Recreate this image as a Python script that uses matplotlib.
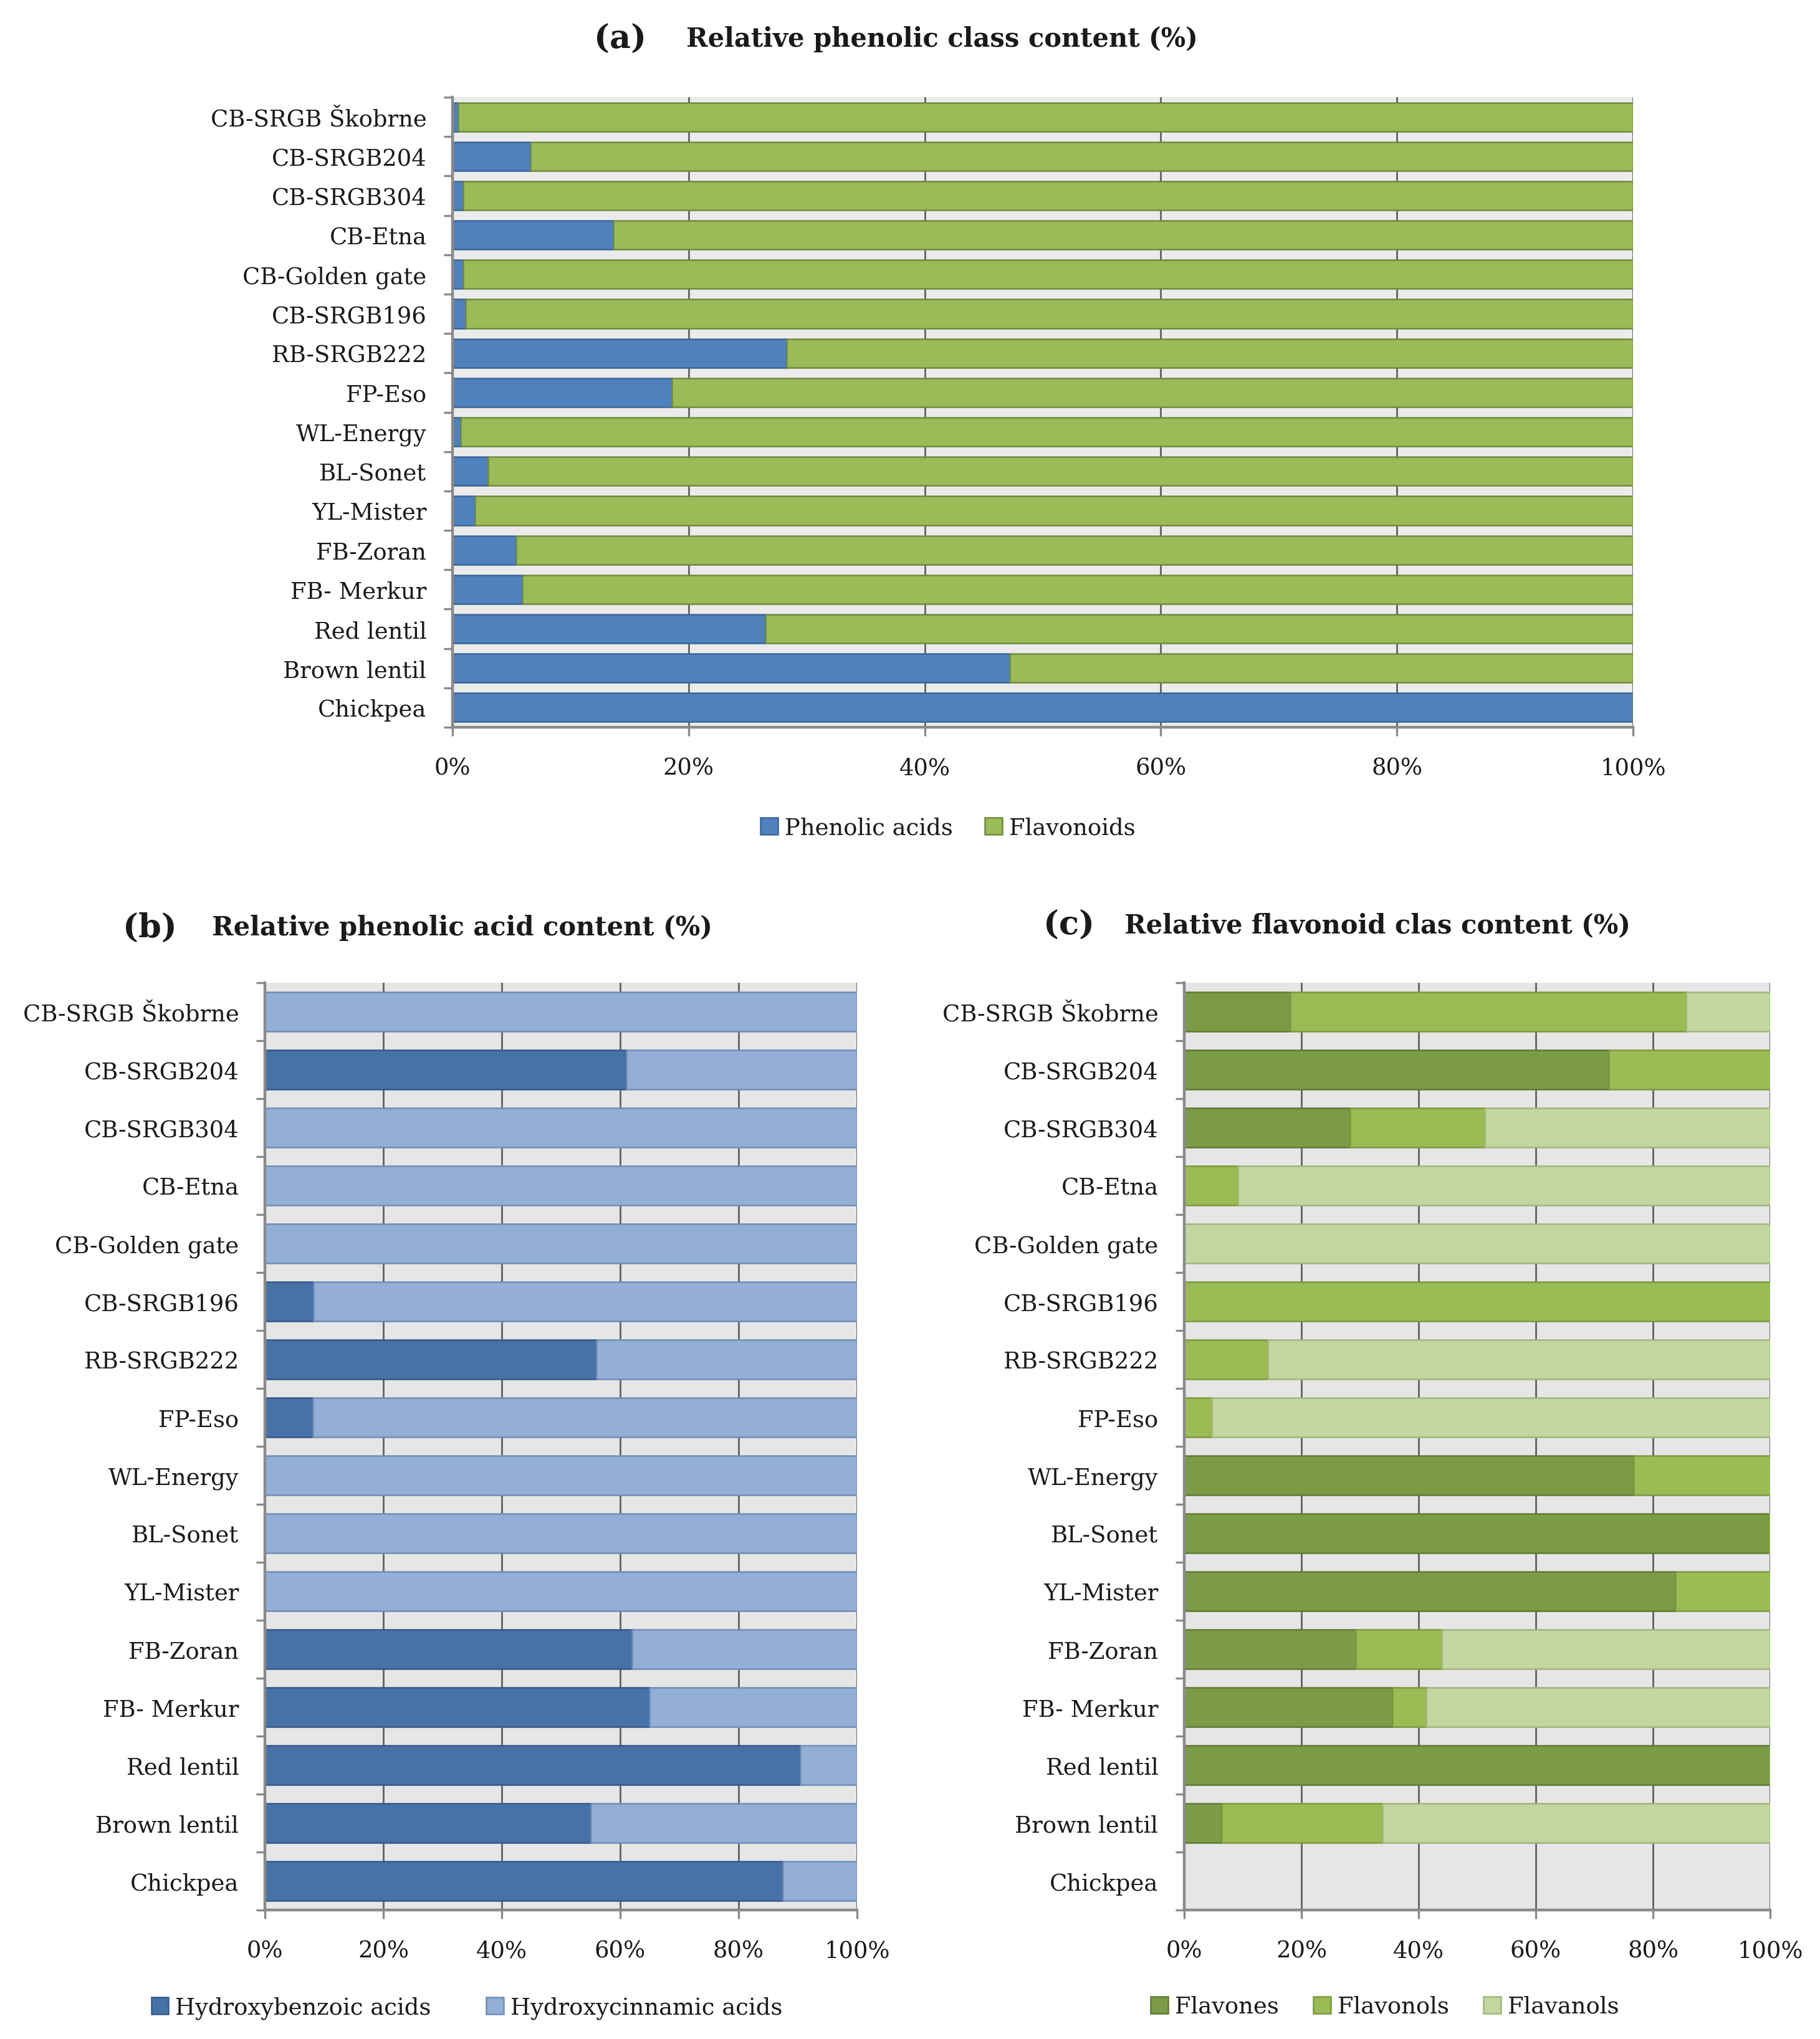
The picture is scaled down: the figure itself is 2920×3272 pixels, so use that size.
import numpy as np
import matplotlib as mpl
import matplotlib.pyplot as plt

plt.rcParams['font.family'] = ['DejaVu Serif']

samples = ['CB-SRGB Škobrne', 'CB-SRGB204', 'CB-SRGB304', 'CB-Etna', 'CB-Golden gate',
           'CB-SRGB196', 'RB-SRGB222', 'FP-Eso', 'WL-Energy', 'BL-Sonet', 'YL-Mister',
           'FB-Zoran', 'FB- Merkur', 'Red lentil', 'Brown lentil', 'Chickpea']

# (a) relative phenolic class content
phenolic_acids = [0.5, 6.6, 0.9, 13.6, 0.9, 1.1, 28.3, 18.6, 0.7, 3.0, 1.9, 5.4, 5.9, 26.5, 47.2, 100]
flavonoids = [99.5, 93.4, 99.1, 86.4, 99.1, 98.9, 71.7, 81.4, 99.3, 97.0, 98.1, 94.6, 94.1, 73.5, 52.8, 0]

# (b) relative phenolic acid content
hydroxybenzoic = [0, 61.1, 0, 0, 0, 8.2, 56.0, 8.1, 0, 0, 0, 62.0, 64.9, 90.4, 55.1, 87.5]
hydroxycinnamic = [100, 38.9, 100, 100, 100, 91.8, 44.0, 91.9, 100, 100, 100, 38.0, 35.1, 9.6, 44.9, 12.5]

# (c) relative flavonoid class content
flavones = [18.1, 72.4, 28.3, 0, 0, 0, 0, 0, 76.7, 99.7, 83.8, 29.3, 35.5, 100, 6.4, 0]
flavonols = [67.5, 27.6, 23.0, 9.1, 0, 100, 14.3, 4.7, 23.3, 0.3, 16.2, 14.6, 5.8, 0, 27.4, 0]
flavanols = [14.4, 0, 48.7, 90.9, 100, 0, 85.7, 95.3, 0, 0, 0, 56.1, 58.7, 0, 66.2, 0]

xticks = [0, 20, 40, 60, 80, 100]
xticklabels = ['0%', '20%', '40%', '60%', '80%', '100%']

TICK_FS = 13.3
TXT = '#1a1a1a'
AXIS_GRAY = '#8a8a8a'
GRID_GRAY = '#606060'


def draw_panel(ax, series, names, colors, edges, bar_h, bg):
    y = np.arange(len(samples))
    left = np.zeros(len(samples))
    for vals, nm, c, e in zip(series, names, colors, edges):
        vals = np.array(vals, dtype=float)
        ax.barh(y, vals, left=left, height=bar_h, color=c, edgecolor=e,
                linewidth=0.9, label=nm, zorder=3)
        left = left + vals
    ax.set_facecolor(bg)
    ax.set_xlim(0, 100)
    ax.set_ylim(len(samples) - 0.5, -0.5)
    ax.set_yticks(y)
    ax.set_yticklabels(samples, fontsize=TICK_FS, color=TXT)
    ax.set_yticks(np.arange(len(samples) + 1) - 0.5, minor=True)
    ax.tick_params(axis='y', which='major', length=0, pad=15)
    ax.tick_params(axis='y', which='minor', length=5, width=1.2, color=AXIS_GRAY, direction='out')
    ax.set_xticks(xticks)
    ax.set_xticklabels(xticklabels, fontsize=TICK_FS, color=TXT)
    ax.tick_params(axis='x', length=5, width=1.2, color=AXIS_GRAY, direction='out', pad=12)
    ax.set_axisbelow(True)
    ax.grid(axis='x', color=GRID_GRAY, linewidth=1.0, zorder=0)
    for s in ['top', 'right']:
        ax.spines[s].set_visible(False)
    for s in ['left', 'bottom']:
        ax.spines[s].set_color(AXIS_GRAY)
        ax.spines[s].set_linewidth(1.6)
        ax.spines[s].set_zorder(4)


fig = plt.figure(figsize=(14.6, 16.365), dpi=200)
W, H = 2920.0, 3273.0

def fig_axes(x0, y0, x1, y1):
    return fig.add_axes([x0 / W, 1 - y1 / H, (x1 - x0) / W, (y1 - y0) / H])

ax_a = fig_axes(726, 157, 2620, 1168)
ax_b = fig_axes(425, 1578, 1375, 3066)
ax_c = fig_axes(1900, 1578, 2840, 3066)

draw_panel(ax_a, [phenolic_acids, flavonoids], ['Phenolic acids', 'Flavonoids'],
           ['#4f81bd', '#9bbb59'], ['#3b6596', '#6f8a3c'], 0.73, '#ebebeb')
draw_panel(ax_b, [hydroxybenzoic, hydroxycinnamic], ['Hydroxybenzoic acids', 'Hydroxycinnamic acids'],
           ['#4672a8', '#94afd6'], ['#35598a', '#6f8db8'], 0.68, '#e6e6e6')
draw_panel(ax_c, [flavones, flavonols, flavanols], ['Flavones', 'Flavonols', 'Flavanols'],
           ['#7c9b47', '#9bbb55', '#c4d69f'], ['#5f7a33', '#7b9a3d', '#9fb57a'], 0.68, '#e6e6e6')

# titles
def title(letter, lx, text, tx, ty):
    fig.text(lx / W, 1 - ty / H, letter, ha='center', va='center', fontsize=19,
             fontweight='bold', color=TXT)
    fig.text(tx / W, 1 - ty / H, text, ha='left', va='center', fontsize=15,
             fontweight='bold', color=TXT)

title('(a)', 995, 'Relative phenolic class content (%)', 1101, 63)
title('(b)', 240, 'Relative phenolic acid content (%)', 340, 1489)
title('(c)', 1715, 'Relative flavonoid clas content (%)', 1804, 1485)

# legends
def legend(ax, cx, cy, colspace):
    h, l = ax.get_legend_handles_labels()
    leg = fig.legend(h, l, loc='center', bbox_to_anchor=(cx / W, 1 - cy / H), ncol=len(h),
                     frameon=False, fontsize=TICK_FS, handlelength=0.75, handleheight=0.75,
                     handletextpad=0.3, columnspacing=colspace, borderpad=0)
    for t in leg.get_texts():
        t.set_color(TXT)

legend(ax_a, 1521, 1329, 1.4)
legend(ax_b, 749, 3223, 2.4)
legend(ax_c, 2222, 3221, 1.5)

fig.savefig('out.png', dpi=200, facecolor='white')
